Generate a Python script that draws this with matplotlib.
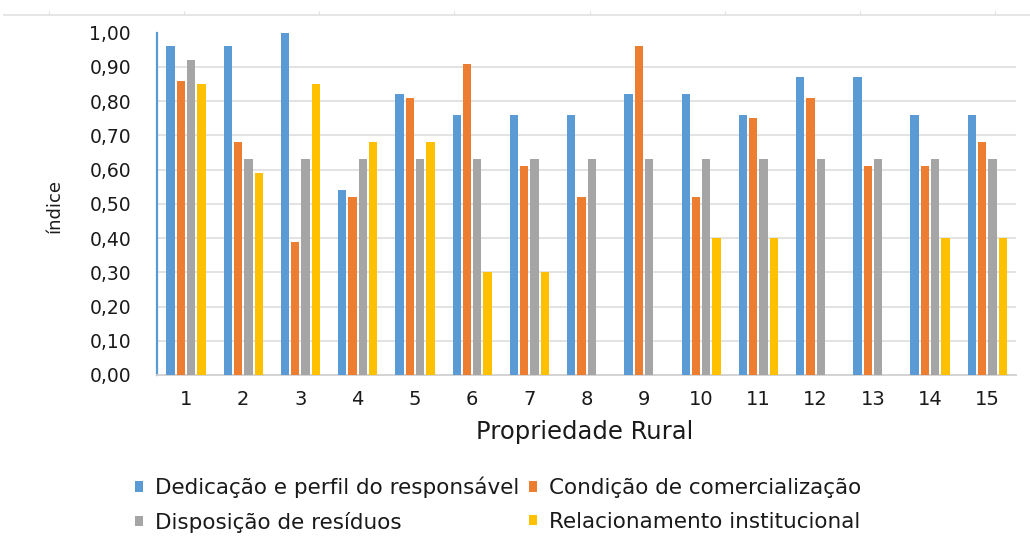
import numpy as np
import matplotlib
matplotlib.use("Agg")
import matplotlib.pyplot as plt
from matplotlib.ticker import FixedLocator

plt.rcParams['font.family'] = ['DejaVu Sans']

# Data
propriedades = [str(i) for i in range(1, 16)]
dedicacao = [0.96, 0.96, 1.00, 0.54, 0.82, 0.76, 0.76, 0.76, 0.82, 0.82, 0.76, 0.87, 0.87, 0.76, 0.76]
comercializacao = [0.86, 0.68, 0.39, 0.52, 0.81, 0.91, 0.61, 0.52, 0.96, 0.52, 0.75, 0.81, 0.61, 0.61, 0.68]
residuos = [0.92, 0.63, 0.63, 0.63, 0.63, 0.63, 0.63, 0.63, 0.63, 0.63, 0.63, 0.63, 0.63, 0.63, 0.63]
institucional = [0.85, 0.59, 0.85, 0.68, 0.68, 0.30, 0.30, 0.00, 0.00, 0.40, 0.40, 0.00, 0.00, 0.40, 0.40]

series_names = ['Dedicação e perfil do responsável', 'Condição de comercialização',
                'Disposição de resíduos', 'Relacionamento institucional']
y_ticks = [0.0, 0.1, 0.2, 0.3, 0.4, 0.5, 0.6, 0.7, 0.8, 0.9, 1.0]

colors = ['#5B9BD5', '#ED7D31', '#A5A5A5', '#FFC000']
text_color = '#1A1A1A'
grid_color = '#E0E0E0'

W, H = 1030, 538
fig = plt.figure(figsize=(W / 100, H / 100), dpi=100)
ax = fig.add_axes([157.4 / W, 1 - 375 / H, 858.5 / W, (375 - 32.7) / H])

x = np.arange(len(propriedades))
step = 0.18
width = 0.145
handles = []
for i, (vals, name, c) in enumerate(zip([dedicacao, comercializacao, residuos, institucional],
                                        series_names, colors)):
    b = ax.bar(x + (i - 1.5) * step, vals, width=width, color=c, label=name, zorder=3)
    handles.append(b)

ax.set_xlim(-0.5, len(propriedades) - 0.5)
ax.set_ylim(0, 1.0)
ax.set_yticks(y_ticks)
ax.set_yticklabels([f"{v:.2f}".replace('.', ',') for v in y_ticks])
ax.set_xticks(x)
ax.set_xticklabels(propriedades)

# horizontal gridlines (below the top limit)
for v in y_ticks[1:-1]:
    ax.axhline(v, color=grid_color, lw=1.3, zorder=1)

for s in ['top', 'right']:
    ax.spines[s].set_visible(False)
ax.spines['left'].set_color(colors[0])
ax.spines['left'].set_linewidth(1.6)
ax.spines['bottom'].set_color('#D0D0D0')
ax.spines['bottom'].set_linewidth(1.3)

ax.tick_params(axis='y', length=0, pad=19, labelsize=13.5, labelcolor=text_color)
ax.tick_params(axis='x', length=0, pad=11, labelsize=14, labelcolor=text_color)

fig.text(55 / W, 1 - 206 / H, 'índice', rotation=90, ha='center', va='center',
         fontsize=13, color=text_color)
fig.text(585 / W, 1 - 439 / H, 'Propriedade Rural', ha='center', va='baseline',
         fontsize=17.5, color=text_color)

# legend: two columns, filled column-wise
order = [0, 2, 1, 3]
fig.legend([handles[k] for k in order], [series_names[k] for k in order],
           loc='upper left', bbox_to_anchor=(135 / W, 1 - 477 / H), ncol=2,
           frameon=False, fontsize=15.5, handlelength=0.38, handleheight=0.38,
           handletextpad=0.55, columnspacing=0.45, labelspacing=0.62,
           borderpad=0, borderaxespad=0, labelcolor=text_color)

# thin ruler line across the top
top = fig.add_axes([4 / W, 1 - 15 / H, 1 - 4 / W, 0.001])
top.set_xlim(4, W)
top.patch.set_visible(False)
for s in ['top', 'right', 'left']:
    top.spines[s].set_visible(False)
top.spines['bottom'].set_color(grid_color)
top.spines['bottom'].set_linewidth(1.2)
top.set_yticks([])
top.xaxis.set_major_locator(FixedLocator(np.arange(48.7, W, 135.2)))
top.tick_params(axis='x', direction='in', length=3, color=grid_color, labelbottom=False)

fig.savefig('out.png', dpi=100)
